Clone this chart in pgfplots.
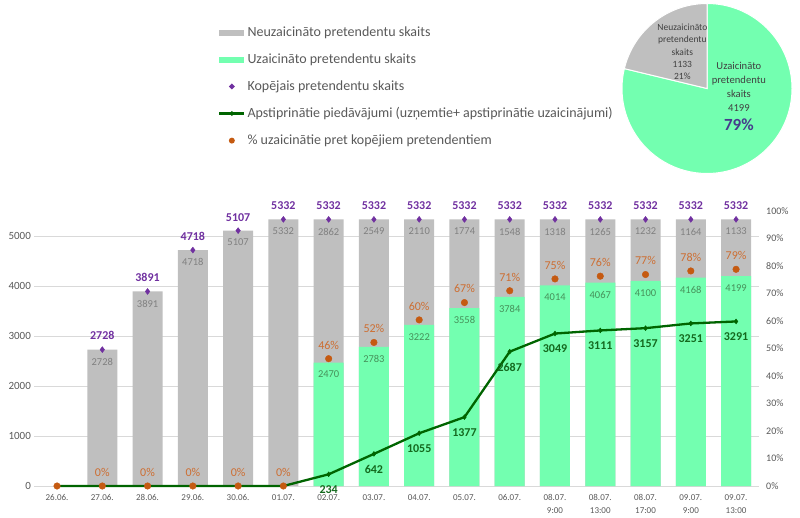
\documentclass[border=0pt]{standalone}
\usepackage{fontspec}
\setmainfont{Carlito}
\usepackage{pgfplots}
\pgfplotsset{compat=1.18}
\definecolor{cgray}{RGB}{191,191,191}
\definecolor{cgreen}{RGB}{115,255,176}
\definecolor{cpurple}{RGB}{112,48,160}
\definecolor{corange}{RGB}{197,90,17}
\definecolor{cpcttxt}{RGB}{205,110,50}
\definecolor{cline}{RGB}{0,100,0}
\definecolor{clinetxt}{RGB}{20,105,30}
\definecolor{ctick}{RGB}{89,89,89}
\definecolor{cgrid}{RGB}{217,217,217}
\definecolor{cgraytxt}{RGB}{128,128,128}
\definecolor{cgreentxt}{RGB}{70,145,90}
\definecolor{cpietxt}{RGB}{64,64,64}
\definecolor{cbig}{RGB}{70,60,140}
\begin{document}
\begin{tikzpicture}[x=1pt,y=1pt]
\useasboundingbox (0,0) rectangle (800,517);
% ---------------- main (left) axis ----------------
\begin{axis}[
  at={(34.4pt,31pt)}, anchor=south west, scale only axis,
  width=724.3pt, height=275pt,
  xmin=-0.5, xmax=15.5, ymin=0, ymax=5500,
  ytick={0,1000,2000,3000,4000,5000},
  ymajorgrids, grid style={cgrid, line width=0.8pt},
  axis line style={draw=none}, major tick length=0pt,
  xtick={0,...,15},
  xticklabels={26.06.,27.06.,28.06.,29.06.,30.06.,01.07.,02.07.,03.07.,04.07.,05.07.,06.07.,{08.07.\\9:00},{08.07.\\13:00},{08.07.\\17:00},{09.07.\\9:00},{09.07.\\13:00}},
  xticklabel style={align=center, font=\fontsize{9}{13}\selectfont, text=ctick, yshift=-5pt},
  yticklabel style={font=\fontsize{11}{13}\selectfont, text=ctick},
  /pgf/number format/assume math mode=true,
  /pgf/number format/set thousands separator={},
  clip=false,
]
% total height (grey part of stacked bar: total = invited + not invited)
\addplot[ybar, bar width=30pt, bar shift=0pt, fill=cgray, draw=none]
  coordinates {(1,2728)(2,3891)(3,4718)(4,5107)(5,5332)(6,5332)(7,5332)(8,5332)(9,5332)(10,5332)(11,5332)(12,5332)(13,5332)(14,5332)(15,5332)};
% invited (green)
\addplot[ybar, bar width=30pt, bar shift=0pt, fill=cgreen, draw=none]
  coordinates {(6,2470)(7,2783)(8,3222)(9,3558)(10,3784)(11,4014)(12,4067)(13,4100)(14,4168)(15,4199)};
% grey bar labels (not invited)
\addplot[draw=none, nodes near coords, point meta=explicit symbolic,
  every node near coord/.append style={anchor=north, yshift=-5pt, font=\fontsize{10.5}{12}\selectfont, text=cgraytxt}]
  coordinates {(1,2728)[2728] (2,3891)[3891] (3,4718)[4718] (4,5107)[5107] (5,5332)[5332] (6,5332)[2862] (7,5332)[2549] (8,5332)[2110] (9,5332)[1774] (10,5332)[1548] (11,5332)[1318] (12,5332)[1265] (13,5332)[1232] (14,5332)[1164] (15,5332)[1133]};
% green bar labels
\addplot[draw=none, nodes near coords, point meta=explicit symbolic,
  every node near coord/.append style={anchor=north, yshift=-5pt, font=\fontsize{10.5}{12}\selectfont, text=cgreentxt}]
  coordinates {(6,2470)[2470] (7,2783)[2783] (8,3222)[3222] (9,3558)[3558] (10,3784)[3784] (11,4014)[4014] (12,4067)[4067] (13,4100)[4100] (14,4168)[4168] (15,4199)[4199]};
% total markers
\addplot[only marks, mark=diamond*, mark size=3pt, color=cpurple,
  nodes near coords, point meta=explicit symbolic,
  every node near coord/.append style={anchor=south, yshift=6pt, font=\bfseries\fontsize{12}{14}\selectfont, text=cpurple}]
  coordinates {(1,2728)[2728] (2,3891)[3891] (3,4718)[4718] (4,5107)[5107] (5,5332)[5332] (6,5332)[5332] (7,5332)[5332] (8,5332)[5332] (9,5332)[5332] (10,5332)[5332] (11,5332)[5332] (12,5332)[5332] (13,5332)[5332] (14,5332)[5332] (15,5332)[5332]};
% approved offers line
\addplot[color=cline, line width=2.3pt, mark=diamond*, mark size=2.4pt, mark options={line width=0.5pt}]
  coordinates {(0,0)(1,0)(2,0)(3,0)(4,0)(5,0)(6,234)(7,642)(8,1055)(9,1377)(10,2687)(11,3049)(12,3111)(13,3157)(14,3251)(15,3291)};
\addplot[draw=none, nodes near coords, point meta=explicit symbolic,
  every node near coord/.append style={anchor=north, yshift=-8pt, font=\bfseries\fontsize{12}{14}\selectfont, text=clinetxt}]
  coordinates {(6,234)[234] (7,642)[642] (8,1055)[1055] (9,1377)[1377] (10,2687)[2687] (11,3049)[3049] (12,3111)[3111] (13,3157)[3157] (14,3251)[3251] (15,3291)[3291]};
\end{axis}
% ---------------- right (percent) axis ----------------
\begin{axis}[
  at={(34.4pt,31pt)}, anchor=south west, scale only axis,
  width=724.3pt, height=275pt,
  xmin=-0.5, xmax=15.5, ymin=0, ymax=100,
  axis y line*=right, axis x line=none,
  axis line style={draw=none}, major tick length=0pt,
  ytick={0,10,...,100},
  yticklabel={\pgfmathprintnumber{\tick}\%},
  yticklabel style={font=\fontsize{10}{12}\selectfont, text=ctick, anchor=west, xshift=4pt},
  /pgf/number format/assume math mode=true,
  clip=false,
  legend style={at={(0.2535,1.6727)}, anchor=north west, draw=none, fill=none,
    font=\fontsize{14}{17}\selectfont, text=ctick, row sep=13.6pt, inner sep=0pt,
    nodes={inner sep=1pt},
    /tikz/every odd column/.append style={column sep=1pt}},
  legend cell align=left,
]
\addlegendimage{legend image code/.code={\fill[cgray, draw=none] (0pt,-3pt) rectangle (25pt,3pt);}}
\addlegendentry{Neuzaicināto pretendentu skaits}
\addlegendimage{legend image code/.code={\fill[cgreen, draw=none] (0pt,-3pt) rectangle (25pt,3pt);}}
\addlegendentry{Uzaicināto pretendentu skaits}
\addlegendimage{legend image code/.code={\fill[white, draw=none, fill opacity=0] (0pt,-3pt) rectangle (25pt,3pt); \fill[cpurple, draw=none] (12.5pt,3pt) -- (15.5pt,0pt) -- (12.5pt,-3pt) -- (9.5pt,0pt) -- cycle;}}
\addlegendentry{Kopējais pretendentu skaits}
\addlegendimage{legend image code/.code={\draw[cline, line width=2.3pt] (0pt,0pt) -- (25pt,0pt); \fill[cline, draw=none] (12.5pt,2.5pt) -- (15pt,0pt) -- (12.5pt,-2.5pt) -- (10pt,0pt) -- cycle;}}
\addlegendentry{Apstiprinātie piedāvājumi (uzņemtie+ apstiprinātie uzaicinājumi)}
\addlegendimage{legend image code/.code={\fill[white, draw=none, fill opacity=0] (0pt,-3pt) rectangle (25pt,3pt); \fill[corange, draw=none] (12.5pt,0pt) circle (3pt);}}
\addlegendentry{\% uzaicinātie pret kopējiem pretendentiem}
\addplot[only marks, mark=*, mark size=3.3pt, color=corange, forget plot]
  coordinates {(0,0)(1,0)(2,0)(3,0)(4,0)(5,0)(6,46.3)(7,52.2)(8,60.4)(9,66.7)(10,71.0)(11,75.3)(12,76.3)(13,76.9)(14,78.2)(15,78.8)};
\addplot[draw=none, forget plot, nodes near coords, point meta=explicit symbolic,
  every node near coord/.append style={anchor=south, yshift=6pt, font=\fontsize{12}{14}\selectfont, text=cpcttxt}]
  coordinates {(1,0)[0\%] (2,0)[0\%] (3,0)[0\%] (4,0)[0\%] (5,0)[0\%] (6,46.3)[46\%] (7,52.2)[52\%] (8,60.4)[60\%] (9,66.7)[67\%] (10,71.0)[71\%] (11,75.3)[75\%] (12,76.3)[76\%] (13,76.9)[77\%] (14,78.2)[78\%] (15,78.8)[79\%]};
\end{axis}
% ---------------- pie ----------------
\begin{axis}[
  at={(622pt,343.5pt)}, anchor=south west, scale only axis,
  width=170pt, height=170pt, xmin=-1, xmax=1, ymin=-1, ymax=1,
  hide axis, clip=false,
]
\pgfmathsetmacro{\ang}{90+360*(1133/(1133+4199))}
\fill[cgreen, draw=white, line width=1pt] (axis cs:0,0) -- (axis cs:0,1) arc[start angle=90, end angle=\ang-360, radius=85pt] -- cycle;
\fill[cgray, draw=white, line width=1pt] (axis cs:0,0) -- (axis cs:0,1) arc[start angle=90, end angle=\ang, radius=85pt] -- cycle;
\node[align=center, text=cpietxt, font=\fontsize{9.5}{12.3}\selectfont, inner sep=0pt] at (axis cs:-0.29,0.43) {Neuzaicināto\\pretendentu\\skaits\\1133\\21\%};
\node[align=center, text=cpietxt, font=\fontsize{10.6}{14}\selectfont, inner sep=0pt] at (axis cs:0.375,0.02) {Uzaicināto\\pretendentu\\skaits\\4199};
\node[text=cbig, font=\bfseries\fontsize{17}{19}\selectfont, inner sep=0pt] at (axis cs:0.375,-0.43) {79\%};
\end{axis}
\end{tikzpicture}
\end{document}
